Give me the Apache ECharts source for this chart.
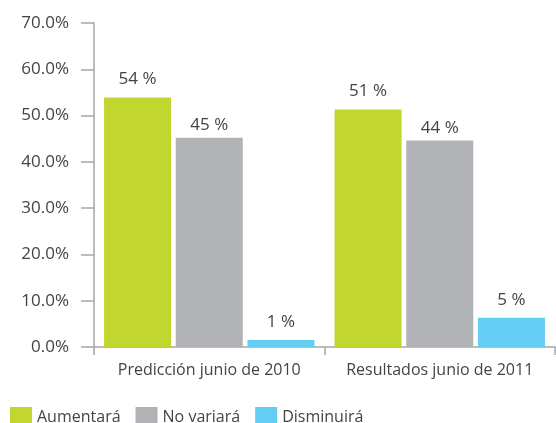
<!DOCTYPE html>
<html><head><meta charset="utf-8">
<script src="https://cdn.jsdelivr.net/npm/echarts@6/dist/echarts.min.js"></script>
<style>html,body{margin:0;padding:0;background:#fff}#c{width:556px;height:423px}</style>
</head><body><div id="c"></div>
<script>
const categories = ['Predicción junio de 2010', 'Resultados junio de 2011'];
const seriesNames = ['Aumentará', 'No variará', 'Disminuirá'];
const aumentara = [53.9, 51.3];
const noVariara = [45.2, 44.6];
const disminuira = [1.5, 6.3];
const aumentaraLabels = ['54 %', '51 %'];
const noVariaraLabels = ['45 %', '44 %'];
const disminuiraLabels = ['1 %', '5 %'];
const yTicks = { min: 0, max: 70, interval: 10 };

const colors = ['#C1D72F', '#B1B2B5', '#63CDF3'];
const txt = '#444444';
const font = '"Open Sans", sans-serif';

function mk(name, data, labels, color, dist) {
  return {
    name, type: 'bar', data, barWidth: 67, barGap: '7%',
    itemStyle: { color },
    label: { show: true, position: 'top', distance: dist, color: txt, fontSize: 17, fontFamily: font,
      formatter: p => labels[p.dataIndex] }
  };
}

const chart = echarts.init(document.getElementById('c'));
chart.setOption({
  animation: false,
  grid: { left: 94, right: 1, top: 23, bottom: 76 },
  legend: {
    data: seriesNames, left: 5, top: 402, itemWidth: 22, itemHeight: 20, itemGap: 15,
    icon: 'rect', textStyle: { color: txt, fontSize: 16, fontFamily: font }
  },
  xAxis: {
    type: 'category', data: categories,
    axisLine: { lineStyle: { color: '#a6a6a6', width: 1.5 } },
    axisTick: { show: true, length: 8, lineStyle: { color: '#a6a6a6', width: 1.5 } },
    axisLabel: { color: txt, fontSize: 16, fontFamily: font, margin: 15, interval: 0 }
  },
  yAxis: {
    type: 'value', min: yTicks.min, max: yTicks.max, interval: yTicks.interval,
    splitLine: { show: false },
    axisLine: { show: true, lineStyle: { color: '#a6a6a6', width: 1.5 } },
    axisTick: { show: true, length: 13, lineStyle: { color: '#a6a6a6', width: 1.5 } },
    axisLabel: { color: txt, fontSize: 17, fontFamily: font, margin: 25,
      formatter: v => v.toFixed(1) + '%' }
  },
  series: [
    mk(seriesNames[0], aumentara, aumentaraLabels, colors[0], 10),
    mk(seriesNames[1], noVariara, noVariaraLabels, colors[1], 4),
    mk(seriesNames[2], disminuira, disminuiraLabels, colors[2], 9)
  ]
});
</script></body></html>
